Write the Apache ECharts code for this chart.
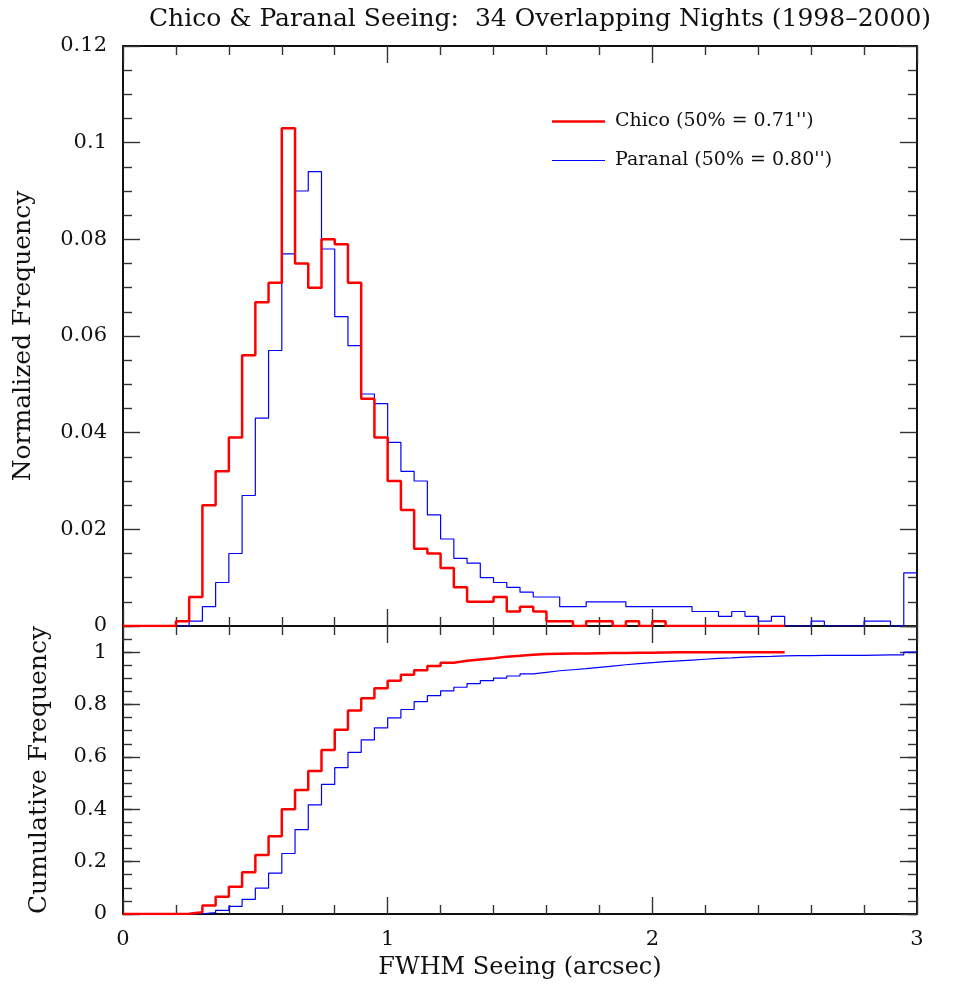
<!DOCTYPE html>
<html>
<head>
<meta charset="utf-8">
<script src="https://cdn.jsdelivr.net/npm/echarts@6/dist/echarts.min.js"></script>
<style>
  html, body { margin: 0; padding: 0; background: #fff; }
  #seeing_chart { width: 978px; height: 992px; }
</style>
</head>
<body>
<div id="seeing_chart"></div>
<script>
// bin width 0.05 arcsec, left edges from 0 to 3
const binWidth = 0.05;
const binEdges = [];
for (let i = 0; i <= 60; i++) binEdges.push(+(i * binWidth).toFixed(2));

const xTicks = [0, 1, 2, 3];

// Chico histogram / cumulative, bins 0 .. 2.5
const chicoHist = [
  0, 0, 0, 0,
  0.001, 0.006, 0.025, 0.032, 0.039, 0.056, 0.067, 0.071, 0.103, 0.075,
  0.070, 0.080, 0.079, 0.071, 0.047, 0.039, 0.030, 0.024, 0.016, 0.015,
  0.012, 0.008, 0.005, 0.005, 0.006, 0.003, 0.004, 0.003, 0.001, 0.001,
  0, 0.001, 0.001, 0, 0.001, 0, 0.001,
  0, 0, 0, 0, 0, 0, 0, 0, 0
];
const chicoCum = [
  0, 0, 0, 0,
  0.001, 0.007, 0.032, 0.066, 0.104, 0.159, 0.225, 0.297, 0.400, 0.474,
  0.546, 0.626, 0.704, 0.777, 0.824, 0.862, 0.891, 0.914, 0.931, 0.947,
  0.960, 0.967, 0.972, 0.977, 0.983, 0.986, 0.990, 0.993, 0.994, 0.995,
  0.995, 0.996, 0.997, 0.997, 0.998, 0.998, 0.999,
  1, 1, 1, 1, 1, 1, 1, 1, 1
];

// Paranal histogram / cumulative, bins 0 .. 3
const paranalHist = [
  0, 0, 0, 0, 0,
  0.001, 0.004, 0.009, 0.015, 0.027, 0.043, 0.057, 0.077, 0.090, 0.094,
  0.078, 0.064, 0.058, 0.048, 0.046, 0.038, 0.032, 0.030, 0.023, 0.018,
  0.014, 0.013, 0.010, 0.009, 0.008, 0.007, 0.006, 0.006, 0.004, 0.004,
  0.005, 0.005, 0.005, 0.004, 0.004, 0.004, 0.004, 0.004, 0.003, 0.003,
  0.002, 0.003, 0.002, 0.001, 0.002, 0, 0, 0.001, 0, 0,
  0, 0.001, 0.001, 0, 0.011
];
const paranalCum = [
  0, 0, 0, 0, 0,
  0.001, 0.005, 0.014, 0.029, 0.056, 0.099, 0.156, 0.231, 0.322, 0.417,
  0.495, 0.559, 0.617, 0.665, 0.711, 0.749, 0.781, 0.811, 0.834, 0.852,
  0.866, 0.880, 0.891, 0.901, 0.909, 0.917, 0.923, 0.929, 0.933, 0.937,
  0.942, 0.947, 0.952, 0.956, 0.960, 0.964, 0.967, 0.970, 0.973, 0.976,
  0.978, 0.981, 0.983, 0.984, 0.986, 0.987, 0.987, 0.988, 0.988, 0.988,
  0.988, 0.989, 0.990, 0.990, 1.000
];

const chicoName = "Chico (50% = 0.71'')";
const paranalName = "Paranal (50% = 0.80'')";

// step points: left edge of each bin, plus the right edge of the last one
function toSteps(values) {
  const pts = values.map((v, i) => [binEdges[i], v]);
  pts.push([binEdges[values.length], values[values.length - 1]]);
  return pts;
}

const FONT = "DejaVu Serif";
const INK = "#111";

function frameAxis(extra) {
  return Object.assign({
    type: "value",
    axisLine: { show: true, onZero: false, lineStyle: { color: INK, width: 2 } },
    axisTick: { show: true, inside: true, length: 17, lineStyle: { color: "#333", width: 1.4 } },
    minorTick: { show: true, length: 9, lineStyle: { color: "#333", width: 1.4 } },
    axisLabel: { show: false },
    splitLine: { show: false },
    minorSplitLine: { show: false },
  }, extra);
}

function xFrame(grid, pos, labels) {
  return frameAxis({
    gridIndex: grid, position: pos, min: 0, max: 3, interval: 1,
    minorTick: { show: true, splitNumber: 5, length: 9, lineStyle: { color: "#333", width: 1.4 } },
    axisLabel: labels
      ? { show: true, margin: 15, color: INK, fontFamily: FONT, fontSize: 21 }
      : { show: false },
  });
}

const myChart = echarts.init(document.getElementById("seeing_chart"));

const option = {
  animation: false,
  backgroundColor: "#fff",
  grid: [
    { left: 123, right: 61, top: 46, height: 580 },
    { left: 123, right: 61, top: 626, height: 288 },
  ],
  graphic: [
    {
      type: "text", x: 540, y: 19,
      style: {
        text: "Chico & Paranal Seeing:  34 Overlapping Nights (1998\u20132000)",
        fontFamily: FONT, fontSize: 25, fill: INK,
        textAlign: "center", textVerticalAlign: "middle",
      },
    },
  ],
  legend: {
    data: [
      { name: chicoName, icon: "path://M0,0H53V2.5H0Z" },
      { name: paranalName, icon: "path://M0,0H53V1.2H0Z" },
    ],
    orient: "vertical",
    left: 547, top: 107,
    itemWidth: 53, itemHeight: 19, itemGap: 20,
    symbolKeepAspect: true,
    selectedMode: false,
    textStyle: { fontFamily: FONT, fontSize: 19, color: INK, padding: [0, 0, 0, 5] },
  },
  xAxis: [
    xFrame(0, "bottom", false),
    xFrame(0, "top", false),
    xFrame(1, "top", false),
    Object.assign(xFrame(1, "bottom", true), {
      name: "FWHM Seeing (arcsec)",
      nameLocation: "middle", nameGap: 42,
      nameTextStyle: { fontFamily: FONT, fontSize: 24, color: INK },
    }),
  ],
  yAxis: [
    // top panel
    frameAxis({
      gridIndex: 0, position: "left", min: 0, max: 0.12, interval: 0.02,
      minorTick: { show: true, splitNumber: 4, length: 9, lineStyle: { color: "#333", width: 1.4 } },
      axisLabel: { show: true, margin: 16, color: INK, fontFamily: FONT, fontSize: 21 },
      name: "Normalized Frequency", nameLocation: "middle", nameGap: 87, nameRotate: 90,
      nameTextStyle: { fontFamily: FONT, fontSize: 25, color: INK },
    }),
    frameAxis({
      gridIndex: 0, position: "right", min: 0, max: 0.12, interval: 0.02,
      minorTick: { show: true, splitNumber: 4, length: 9, lineStyle: { color: "#333", width: 1.4 } },
    }),
    // bottom panel: major ticks with labels
    frameAxis({
      gridIndex: 1, position: "left", min: 0, max: 1.1, interval: 0.2,
      minorTick: { show: false },
      axisLabel: { show: true, margin: 16, showMaxLabel: false, color: INK, fontFamily: FONT, fontSize: 21 },
      name: "Cumulative Frequency", nameLocation: "middle", nameGap: 71, nameRotate: 90,
      nameTextStyle: { fontFamily: FONT, fontSize: 25, color: INK },
    }),
    // bottom panel: minor ticks every 0.05
    frameAxis({
      gridIndex: 1, position: "left", min: 0, max: 1.1, interval: 0.05,
      axisLine: { show: false, onZero: false },
      axisTick: { show: true, inside: true, length: 9, lineStyle: { color: "#333", width: 1.4 } },
      minorTick: { show: false },
    }),
    frameAxis({
      gridIndex: 1, position: "right", min: 0, max: 1.1, interval: 0.2,
      minorTick: { show: false },
    }),
    frameAxis({
      gridIndex: 1, position: "right", min: 0, max: 1.1, interval: 0.05,
      axisLine: { show: false, onZero: false },
      axisTick: { show: true, inside: true, length: 9, lineStyle: { color: "#333", width: 1.4 } },
      minorTick: { show: false },
    }),
  ],
  series: [
    {
      name: paranalName, type: "line", step: "end",
      xAxisIndex: 0, yAxisIndex: 0, showSymbol: false, symbol: "none",
      data: toSteps(paranalHist),
      lineStyle: { color: "#0000ff", width: 1.2 }, itemStyle: { color: "#0000ff" },
      z: 2,
    },
    {
      name: chicoName, type: "line", step: "end",
      xAxisIndex: 0, yAxisIndex: 0, showSymbol: false, symbol: "none",
      data: toSteps(chicoHist),
      lineStyle: { color: "#ff0000", width: 2.5 }, itemStyle: { color: "#ff0000" },
      z: 3,
    },
    {
      name: paranalName, type: "line", step: "end",
      xAxisIndex: 3, yAxisIndex: 2, showSymbol: false, symbol: "none",
      data: toSteps(paranalCum),
      lineStyle: { color: "#0000ff", width: 1.2 }, itemStyle: { color: "#0000ff" },
      z: 2,
    },
    {
      name: chicoName, type: "line", step: "end",
      xAxisIndex: 3, yAxisIndex: 2, showSymbol: false, symbol: "none",
      data: toSteps(chicoCum),
      lineStyle: { color: "#ff0000", width: 2.5 }, itemStyle: { color: "#ff0000" },
      z: 3,
    },
  ],
};

myChart.setOption(option, true);
</script>
</body>
</html>
